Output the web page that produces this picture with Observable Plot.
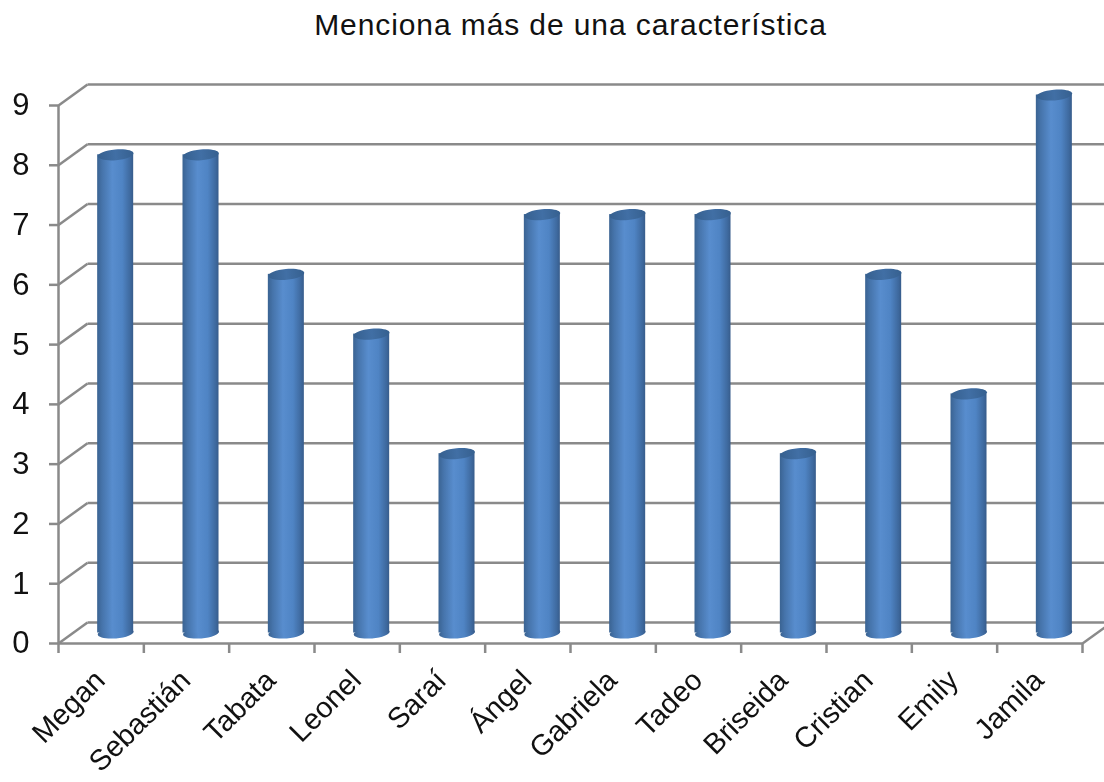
<!DOCTYPE html>
<html lang="es">
<head>
<meta charset="utf-8">
<script src="https://cdn.jsdelivr.net/npm/d3@7"></script>
<script src="https://cdn.jsdelivr.net/npm/@observablehq/plot@0.6"></script>
<style>
html,body{margin:0;padding:0;background:#fff;overflow:hidden}
#title{height:60px;box-sizing:border-box;padding:9px 0 0 37px;text-align:center;font:30px "Liberation Sans",Arial,sans-serif;letter-spacing:0.9px;color:#111;line-height:32px}
#chart svg{display:block;filter:blur(0.4px)}
</style>
</head>
<body>
<svg width="0" height="0" style="position:absolute">
  <defs>
    <linearGradient id="side" x1="0" x2="1" y1="0" y2="0">
      <stop offset="0" stop-color="#3a6392"/>
      <stop offset="0.14" stop-color="#4674ab"/>
      <stop offset="0.42" stop-color="#588dce"/>
      <stop offset="0.7" stop-color="#4f84c4"/>
      <stop offset="0.92" stop-color="#3e699e"/>
      <stop offset="1" stop-color="#375c8b"/>
    </linearGradient>
    <linearGradient id="cap" x1="0" x2="1" y1="0" y2="0">
      <stop offset="0" stop-color="#36608f"/>
      <stop offset="0.5" stop-color="#416fa5"/>
      <stop offset="1" stop-color="#36608f"/>
    </linearGradient>
  </defs>
</svg>
<div id="title">Menciona más de una característica</div>
<div id="chart"></div>
<script>
const nombres = ["Megan","Sebastián","Tabata","Leonel","Saraí","Ángel","Gabriela","Tadeo","Briseida","Cristian","Emily","Jamila"];
const valores = [8,8,6,5,3,7,7,7,3,6,4,9];
const yTicks = [0,1,2,3,4,5,6,7,8,9];
const xTicks = [0,1,2,3,4,5,6,7,8,9,10,11,12];

// Oblique depth of the chart box, in data units of each scale
const depthX = 0.34, depthY = 0.351;
const halfW = 0.211;
const bars = nombres.map((nombre,i)=>({nombre, valor:valores[i], cx:i+0.5+depthX/2, base:depthY/2, top:valores[i]+depthY/2}));

const ellipse = {draw(ctx,size){
  const rx=Math.sqrt(size/Math.PI), ry=rx*0.3, k=0.5523;
  ctx.moveTo(-rx,0);
  ctx.bezierCurveTo(-rx,-ry*k,-rx*k,-ry,0,-ry);
  ctx.bezierCurveTo(rx*k,-ry,rx,-ry*k,rx,0);
  ctx.bezierCurveTo(rx,ry*k,rx*k,ry,0,ry);
  ctx.bezierCurveTo(-rx*k,ry,-rx,ry*k,-rx,0);
  ctx.closePath();
}};

const grey = "#8a8a8a";
const chart = Plot.plot({
  width:1104, height:722,
  marginTop:45, marginBottom:139, marginLeft:58, marginRight:22,
  style:{background:"transparent", fontFamily:"'Liberation Sans',Arial,sans-serif", overflow:"hidden"},
  x:{type:"linear", domain:[0,12], axis:null},
  y:{type:"linear", domain:[0,9], axis:null},
  marks:[
    // back wall gridlines
    Plot.link(yTicks,{x1:depthX, x2:12+depthX+0.5, y1:d=>d+depthY, y2:d=>d+depthY, stroke:grey, strokeWidth:2.5}),
    // left wall diagonals
    Plot.link(yTicks,{x1:0, x2:depthX, y1:d=>d, y2:d=>d+depthY, stroke:grey, strokeWidth:2.5}),
    // floor right diagonal
    Plot.link([12],{x1:d=>d, x2:d=>d+depthX, y1:0, y2:depthY, stroke:grey, strokeWidth:2.5}),
    // cylinders
    Plot.dot(bars,{x:"cx", y:"base", r:18, symbol:ellipse, rotate:-5, fill:"url(#side)", stroke:"none"}),
    Plot.rect(bars,{x1:d=>d.cx-halfW, x2:d=>d.cx+halfW, y1:"base", y2:"top", fill:"url(#side)"}),
    Plot.dot(bars,{x:"cx", y:"top", r:18, symbol:ellipse, rotate:-5, fill:"url(#cap)", stroke:"none"}),
    // axes
    Plot.ruleX([0],{y1:0,y2:9,stroke:grey,strokeWidth:2.5}),
    Plot.ruleY([0],{x1:0,x2:12,stroke:grey,strokeWidth:2.5}),
    Plot.axisY(yTicks,{ticks:yTicks,tickSize:9,tickPadding:20,fontSize:31,stroke:grey,strokeWidth:2.5,strokeOpacity:1,fill:"#111",label:null,tickFormat:d=>d}),
    Plot.axisX(xTicks,{ticks:xTicks,tickSize:10,stroke:grey,strokeWidth:2.5,strokeOpacity:1,tickFormat:()=>"",label:null}),
    Plot.text(nombres,{x:(d,i)=>i+0.5,y:0,text:d=>d,rotate:-45,textAnchor:"end",lineAnchor:"middle",dx:-1,dy:32,fontSize:29,fill:"#111"})
  ]
});
document.getElementById("chart").append(chart);
</script>
</body>
</html>
